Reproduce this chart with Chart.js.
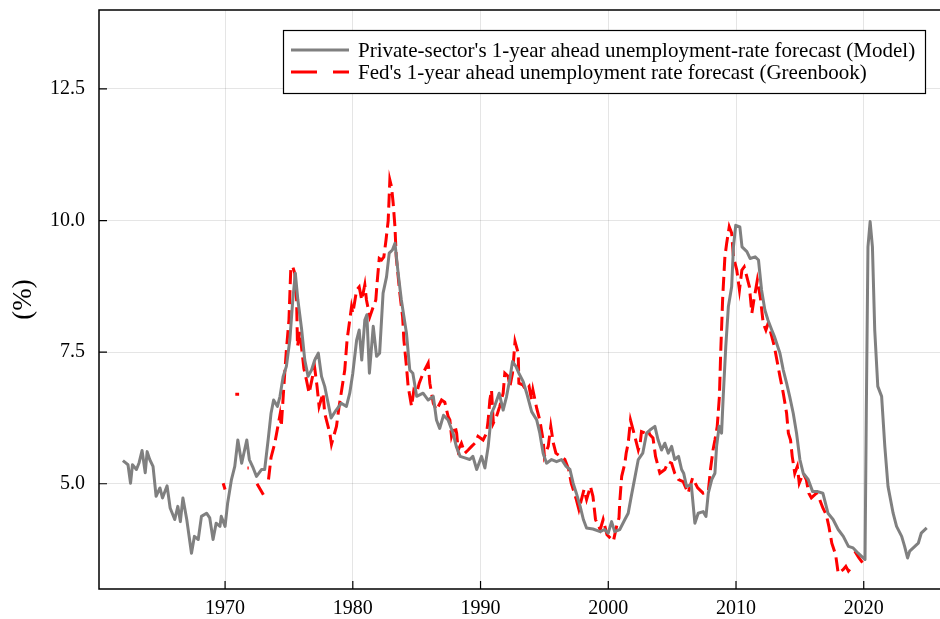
<!DOCTYPE html>
<html>
<head>
<meta charset="utf-8">
<script src="https://cdn.jsdelivr.net/npm/chart.js@4.4.1/dist/chart.umd.min.js"></script>
<style>
    html, body { margin: 0; padding: 0; background: #fff; }
    #wrap { width: 940px; height: 619px; }
</style>
</head>
<body>
<div id="wrap"><canvas id="chart"></canvas></div>
<script>
// Private-sector (model) forecast, decimal years
var modelYears = [
    1962.0, 1962.2, 1962.4, 1962.6, 1962.75, 1963.06, 1963.27, 1963.5, 1963.75, 1963.9,
    1964.1, 1964.36, 1964.6, 1964.9, 1965.1, 1965.46, 1965.7, 1966.06, 1966.3, 1966.5,
    1966.7, 1967.0, 1967.37, 1967.6, 1967.9, 1968.15, 1968.55, 1968.8, 1969.06, 1969.3,
    1969.6, 1969.7, 1970.0, 1970.2, 1970.5, 1970.76, 1971.0, 1971.3, 1971.7, 1971.9,
    1972.2, 1972.46, 1972.85, 1973.1, 1973.37, 1973.6, 1973.8, 1974.1, 1974.3, 1974.55,
    1974.8, 1975.07, 1975.3, 1975.5, 1975.7, 1976.0, 1976.24, 1976.5, 1976.77, 1977.02,
    1977.3, 1977.55, 1977.8, 1978.07, 1978.3, 1978.7, 1979.1, 1979.5, 1979.76, 1980.0,
    1980.3, 1980.5, 1980.7, 1980.94, 1981.1, 1981.3, 1981.6, 1981.86, 1982.1, 1982.37,
    1982.64, 1982.85, 1983.1, 1983.3, 1983.55, 1983.8, 1984.2, 1984.46, 1984.7, 1985.0,
    1985.5, 1985.9, 1986.3, 1986.55, 1986.8, 1987.1, 1987.46, 1987.85, 1988.1, 1988.4,
    1988.77, 1989.16, 1989.4, 1989.7, 1990.08, 1990.34, 1990.6, 1990.86, 1991.1, 1991.46,
    1991.77, 1992.04, 1992.3, 1992.5, 1992.77, 1993.0, 1993.34, 1993.65, 1994.0, 1994.4,
    1994.64, 1994.9, 1995.17, 1995.56, 1995.95, 1996.34, 1996.7, 1997.0, 1997.25, 1997.5,
    1997.8, 1998.05, 1998.3, 1998.8, 1999.37, 1999.7, 1999.99, 2000.26, 2000.5, 2000.9,
    2001.3, 2001.56, 2001.8, 2002.1, 2002.35, 2002.7, 2003.0, 2003.26, 2003.65, 2003.9,
    2004.17, 2004.43, 2004.7, 2004.96, 2005.2, 2005.5, 2005.74, 2005.9, 2006.13, 2006.5,
    2006.78, 2007.04, 2007.43, 2007.65, 2007.83, 2008.1, 2008.35, 2008.48, 2008.68, 2008.87,
    2009.0, 2009.2, 2009.4, 2009.66, 2009.8, 2009.98, 2010.3, 2010.47, 2010.85, 2011.1,
    2011.5, 2011.76, 2012.0, 2012.26, 2012.5, 2012.8, 2013.0, 2013.44, 2013.7, 2013.96,
    2014.2, 2014.48, 2014.74, 2015.0, 2015.26, 2015.65, 2016.0, 2016.4, 2016.8, 2017.2,
    2017.6, 2018.0, 2018.4, 2018.8, 2019.17, 2019.56, 2019.96, 2020.1, 2020.2, 2020.33,
    2020.5, 2020.68, 2020.86, 2021.1, 2021.4, 2021.65, 2021.9, 2022.3, 2022.57, 2022.97,
    2023.2, 2023.43, 2023.6, 2024.0, 2024.27, 2024.5, 2024.93
];
var modelRate = [
    5.44, 5.40, 5.36, 5.01, 5.36, 5.27, 5.40, 5.63, 5.21, 5.61,
    5.46, 5.33, 4.76, 4.92, 4.73, 4.96, 4.54, 4.32, 4.57, 4.28,
    4.73, 4.32, 3.68, 4.00, 3.94, 4.38, 4.44, 4.35, 3.94, 4.25,
    4.19, 4.38, 4.19, 4.63, 5.08, 5.33, 5.83, 5.39, 5.83, 5.46,
    5.30, 5.14, 5.27, 5.27, 5.83, 6.34, 6.59, 6.47, 6.66, 7.04,
    7.23, 7.73, 8.49, 9.00, 8.49, 7.92, 7.35, 7.04, 7.16, 7.35,
    7.48, 7.04, 6.85, 6.53, 6.25, 6.40, 6.53, 6.47, 6.72, 7.10,
    7.73, 7.92, 7.35, 8.11, 8.21, 7.10, 7.99, 7.42, 7.48, 8.62,
    8.93, 9.38, 9.44, 9.57, 9.00, 8.49, 7.86, 7.16, 7.10, 6.66,
    6.72, 6.59, 6.66, 6.21, 6.05, 6.30, 6.21, 5.96, 5.71, 5.52,
    5.49, 5.46, 5.52, 5.27, 5.52, 5.30, 5.71, 6.34, 6.47, 6.72,
    6.40, 6.66, 7.00, 7.32, 7.23, 7.10, 6.94, 6.69, 6.37, 6.21,
    5.96, 5.58, 5.39, 5.46, 5.42, 5.46, 5.33, 5.27, 5.01, 4.82,
    4.57, 4.32, 4.16, 4.14, 4.09, 4.13, 4.06, 4.28, 4.09, 4.13,
    4.32, 4.44, 4.76, 5.14, 5.46, 5.58, 5.96, 6.02, 6.09, 5.83,
    5.64, 5.77, 5.58, 5.71, 5.46, 5.52, 5.27, 5.20, 4.95, 4.98,
    4.25, 4.44, 4.47, 4.38, 4.82, 5.08, 5.20, 5.71, 6.09, 5.96,
    6.66, 7.61, 8.36, 8.74, 9.50, 9.91, 9.88, 9.50, 9.41, 9.28,
    9.31, 9.25, 8.68, 8.30, 8.11, 7.92, 7.80, 7.48, 7.16, 6.91,
    6.66, 6.34, 5.96, 5.46, 5.20, 5.08, 4.85, 4.85, 4.82, 4.44,
    4.32, 4.13, 4.00, 3.81, 3.78, 3.68, 3.59, 3.56, 6.34, 9.50,
    9.98, 9.50, 7.92, 6.85, 6.66, 5.71, 4.95, 4.44, 4.19, 4.00,
    3.81, 3.59, 3.72, 3.81, 3.87, 4.06, 4.16
];

// Fed Greenbook forecast (null = no forecast)
var fedYears = [
    1969.85, 1970.0, 1970.4, 1970.8, 1971.1, 1971.4, 1971.75, 1971.85, 1972.2, 1972.5,
    1973.0, 1973.2, 1973.4, 1973.6, 1973.9, 1974.3, 1974.4, 1974.67, 1974.8, 1975.0,
    1975.15, 1975.3, 1975.46, 1975.6, 1975.67, 1975.85, 1976.17, 1976.37, 1976.58, 1976.85,
    1977.0, 1977.2, 1977.36, 1977.67, 1977.8, 1978.2, 1978.33, 1978.72, 1978.93, 1979.37,
    1979.55, 1979.76, 1979.9, 1980.0, 1980.3, 1980.5, 1980.7, 1980.94, 1981.07, 1981.33,
    1981.6, 1981.8, 1981.9, 1982.07, 1982.25, 1982.43, 1982.6, 1982.77, 1982.9, 1983.03,
    1983.16, 1983.3, 1983.4, 1983.68, 1983.9, 1984.0, 1984.2, 1984.33, 1984.6, 1984.78,
    1985.0, 1985.2, 1985.5, 1985.9, 1986.03, 1986.3, 1986.55, 1986.95, 1987.2, 1987.46,
    1987.6, 1987.73, 1988.0, 1988.13, 1988.25, 1988.5, 1988.77, 1989.03, 1989.3, 1989.56,
    1989.8, 1990.2, 1990.47, 1990.6, 1990.73, 1990.86, 1991.0, 1991.25, 1991.5, 1991.77,
    1991.9, 1992.16, 1992.3, 1992.5, 1992.7, 1992.95, 1993.0, 1993.3, 1993.55, 1993.8,
    1994.0, 1994.1, 1994.4, 1994.64, 1994.9, 1995.0, 1995.3, 1995.5, 1995.7, 1995.9,
    1996.6, 1996.9, 1997.1, 1997.5, 1997.7, 1998.1, 1998.3, 1998.6, 1998.8, 1999.0,
    1999.37, 1999.6, 1999.9, 2000.4, 2000.65, 2000.84, 2000.9, 2001.05, 2001.3, 2001.4,
    2001.56, 2001.74, 2001.95, 2002.35, 2002.5, 2002.6, 2002.9, 2003.1, 2003.26, 2003.5,
    2003.7, 2003.9, 2004.04, 2004.43, 2004.7, 2004.96, 2005.2, 2005.5, 2005.86, 2006.25,
    2006.6, 2007.0, 2007.43, 2007.83, 2008.0, 2008.2, 2008.35, 2008.53, 2008.7, 2008.8,
    2008.96, 2009.13, 2009.27, 2009.47, 2009.66, 2009.8, 2010.06, 2010.27, 2010.46, 2010.64,
    2010.85, 2011.05, 2011.24, 2011.4, 2011.67, 2011.9, 2012.13, 2012.34, 2012.52, 2012.8,
    2013.0, 2013.2, 2013.44, 2013.7, 2013.96, 2014.1, 2014.27, 2014.4, 2014.6, 2014.8,
    2014.95, 2015.26, 2015.5, 2015.7, 2015.9, 2016.3, 2016.55, 2016.8, 2017.07, 2017.27,
    2017.5, 2017.8, 2018.0, 2018.4, 2018.6, 2018.8, 2019.0, 2019.15, 2019.3, 2019.6,
    2019.9
];
var fedRate = [
    5.01, 4.89, null, 6.70, 6.70, null, 5.30, 5.30, null, 5.00,
    4.79, null, 5.08, 5.50, 5.78, 6.31, 6.09, 7.10, 7.54, 8.11,
    9.12, 9.12, 9.00, 8.49, 7.61, 7.89, 7.19, 6.97, 6.72, 7.04,
    7.23, 6.85, 6.47, 6.72, 6.34, 5.96, 5.75, 6.09, 6.47, 7.16,
    7.73, 8.11, 8.36, 8.24, 8.68, 8.74, 8.49, 8.78, 8.49, 8.17,
    8.36, 8.49, 8.81, 9.28, 9.25, 9.31, 9.63, 10.00, 10.77, 10.64,
    10.33, 9.88, 9.31, 8.62, 8.17, 7.73, 7.23, 6.85, 6.47, 6.78,
    6.72, 6.91, 7.10, 7.29, 6.91, 6.53, 6.40, 6.59, 6.55, 6.28,
    6.21, 5.90, 6.10, 5.96, 5.64, 5.77, 5.58, 5.64, 5.71, 5.77,
    5.90, 5.83, 5.96, 6.21, 6.59, 6.78, 6.15, 6.28, 6.47, 6.72,
    7.10, 7.04, 6.85, 7.10, 7.70, 7.48, 6.91, 6.88, 6.78, 6.85,
    6.59, 6.78, 6.43, 6.21, 5.83, 5.52, 5.71, 6.09, 5.77, 5.58,
    5.46, 5.27, 5.01, 4.70, 4.51, 4.89, 4.70, 4.95, 4.76, 4.32,
    4.13, 4.32, 4.03, 3.91, 4.19, 4.35, 4.66, 5.14, 5.39, 5.58,
    5.77, 6.21, 6.02, 5.64, 5.77, 5.99, 5.96, 6.02, 5.93, 5.87,
    5.52, 5.33, 5.20, 5.27, 5.42, 5.39, 5.20, 5.08, 5.04, 4.82,
    5.11, 4.92, 4.82, 4.85, 5.27, 5.64, 5.83, 6.09, 6.66, 7.48,
    8.55, 9.31, 9.57, 9.88, 9.76, 9.31, 9.06, 8.68, 9.06, 9.12,
    8.93, 8.74, 8.24, 8.49, 8.87, 8.55, 8.05, 7.92, 8.05, 7.80,
    7.61, 7.35, 7.04, 6.72, 6.34, 5.96, 5.83, 5.52, 5.20, 5.33,
    5.01, 5.20, 5.08, 4.82, 4.73, 4.82, 4.70, 4.54, 4.41, 4.19,
    3.87, 3.65, 3.30, 3.37, 3.43, 3.34, 3.40, null, 3.72, 3.60,
    3.50
];

var xTicks = [1970, 1980, 1990, 2000, 2010, 2020];
var yTicks = [5.0, 7.5, 10.0, 12.5];
var seriesLabels = [
    "Private-sector's 1-year ahead unemployment-rate forecast (Model)",
    "Fed's 1-year ahead unemployment rate forecast (Greenbook)"
];

var SERIF = "'Liberation Serif', 'DejaVu Serif', serif";
Chart.defaults.font.family = SERIF;
Chart.defaults.color = '#000';

function toPoints(xs, ys) {
    return xs.map(function (x, i) { return { x: x, y: ys[i] }; });
}

// frame, inward ticks and the boxed legend
var frameAndLegend = {
    id: 'frameAndLegend',
    afterDraw: function (chart) {
        var ctx = chart.ctx, a = chart.chartArea;
        var xs = chart.scales.x, ys = chart.scales.y;
        ctx.save();
        ctx.strokeStyle = '#000';
        ctx.lineWidth = 1.5;
        ctx.beginPath();
        ctx.moveTo(a.right, a.top);
        ctx.lineTo(a.left, a.top);
        ctx.lineTo(a.left, a.bottom);
        ctx.lineTo(a.right, a.bottom);
        ctx.stroke();

        ctx.lineWidth = 1.2;
        ctx.beginPath();
        xTicks.forEach(function (v) {
            var px = xs.getPixelForValue(v);
            ctx.moveTo(px, a.bottom);
            ctx.lineTo(px, a.bottom - 8);
        });
        yTicks.forEach(function (v) {
            var py = ys.getPixelForValue(v);
            ctx.moveTo(a.left, py);
            ctx.lineTo(a.left + 8, py);
        });
        ctx.stroke();

        // legend
        var bx = 283, by = 30, bw = 642, bh = 63;
        ctx.fillStyle = '#fff';
        ctx.fillRect(bx, by, bw, bh);
        ctx.lineWidth = 1.2;
        ctx.strokeRect(bx + 0.5, by + 0.5, bw, bh);
        var rows = [
            { y: by + 20, color: '#808080', dash: [] },
            { y: by + 42, color: '#ff0000', dash: [26, 16] }
        ];
        ctx.font = '21px ' + SERIF;
        ctx.textBaseline = 'middle';
        ctx.textAlign = 'left';
        rows.forEach(function (r, i) {
            ctx.strokeStyle = r.color;
            ctx.lineWidth = 3;
            ctx.setLineDash(r.dash);
            ctx.beginPath();
            ctx.moveTo(bx + 8, r.y);
            ctx.lineTo(bx + 66, r.y);
            ctx.stroke();
            ctx.setLineDash([]);
            ctx.fillStyle = '#000';
            ctx.fillText(seriesLabels[i], bx + 75, r.y + 1);
        });
        ctx.restore();
    }
};

var ctx = document.getElementById('chart').getContext('2d');
var myChart = new Chart(ctx, {
    type: 'line',
    data: {
        datasets: [{
            label: seriesLabels[0],
            data: toPoints(modelYears, modelRate),
            borderColor: '#808080',
            borderWidth: 3,
            pointRadius: 0,
            tension: 0,
            borderJoinStyle: 'round'
        }, {
            label: seriesLabels[1],
            data: toPoints(fedYears, fedRate),
            borderColor: '#ff0000',
            borderWidth: 3,
            borderDash: [14, 6],
            pointRadius: 0,
            tension: 0,
            spanGaps: false
        }]
    },
    options: {
        responsive: true,
        maintainAspectRatio: false,
        animation: false,
        layout: { padding: { top: 10, right: 0, left: 0, bottom: 0 } },
        plugins: {
            legend: { display: false },
            tooltip: { enabled: false }
        },
        scales: {
            x: {
                type: 'linear',
                min: 1960.13,
                max: 2025.97,
                afterBuildTicks: function (axis) {
                    axis.ticks = xTicks.map(function (v) { return { value: v }; });
                },
                afterFit: function (axis) {
                    axis.height = 30;
                    axis.paddingLeft = 0;
                    axis.paddingRight = 0;
                },
                grid: { color: 'rgba(0,0,0,0.1)', lineWidth: 1, drawTicks: false },
                border: { display: false },
                ticks: {
                    font: { size: 20 },
                    padding: 8,
                    maxRotation: 0,
                    callback: function (v) { return String(v); }
                }
            },
            y: {
                min: 3,
                max: 14,
                afterBuildTicks: function (axis) {
                    axis.ticks = yTicks.map(function (v) { return { value: v }; });
                },
                afterFit: function (axis) {
                    axis.width = 99;
                    axis.paddingTop = 0;
                    axis.paddingBottom = 0;
                },
                grid: { color: 'rgba(0,0,0,0.1)', lineWidth: 1, drawTicks: false },
                border: { display: false },
                ticks: {
                    font: { size: 20 },
                    padding: 14,
                    callback: function (v) { return v.toFixed(1); }
                },
                title: {
                    display: true,
                    text: '(%)',
                    font: { size: 27 },
                    padding: { top: 8, bottom: 0 }
                }
            }
        }
    },
    plugins: [frameAndLegend]
});
</script>
</body>
</html>
